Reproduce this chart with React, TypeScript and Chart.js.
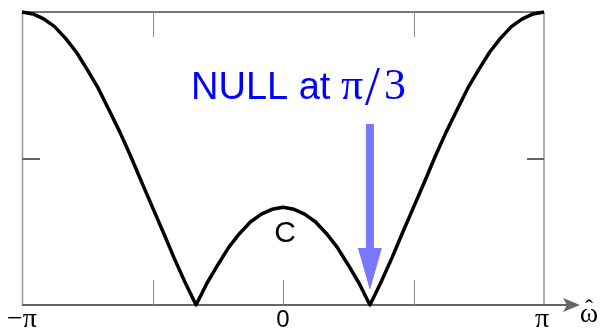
import { useEffect, useRef } from "react";
import { Chart, registerables } from "chart.js";

Chart.register(...registerables);

// Frequency samples, in units of π (step π/24)
const omegaOverPi = [
  -1.0, -0.958, -0.917, -0.875, -0.833, -0.792, -0.75, -0.708, -0.667, -0.625,
  -0.583, -0.542, -0.5, -0.458, -0.417, -0.375, -0.333, -0.292, -0.25, -0.208,
  -0.167, -0.125, -0.083, -0.042, 0.0, 0.042, 0.083, 0.125, 0.167, 0.208, 0.25,
  0.292, 0.333, 0.375, 0.417, 0.458, 0.5, 0.542, 0.583, 0.625, 0.667, 0.708,
  0.75, 0.792, 0.833, 0.875, 0.917, 0.958, 1.0,
];

// Magnitude response |H(ω)|
const magnitude = [
  3.0, 2.98, 2.93, 2.85, 2.73, 2.59, 2.41, 2.22, 2.0, 1.77, 1.52, 1.26, 1.0,
  0.74, 0.48, 0.23, 0.0, 0.22, 0.41, 0.59, 0.73, 0.85, 0.93, 0.98, 1.0, 0.98,
  0.93, 0.85, 0.73, 0.59, 0.41, 0.22, 0.0, 0.23, 0.48, 0.74, 1.0, 1.26, 1.52,
  1.77, 2.0, 2.22, 2.41, 2.59, 2.73, 2.85, 2.93, 2.98, 3.0,
];

const xTickValues = [-1, -0.5, 0, 0.5, 1];
const xTickLabels = ["−π", "", "0", "", "π"];
const yTickValues = [1.5];
const nullOmegaOverPi = 0.333;
const curveLabel = "C";
const nullLabelText = "NULL at ";
const nullLabelMath = ["π", "/", "3"];
const axisLabel = "ω";
const axisLabelAccent = "ˆ";

const SANS = '"Liberation Sans", Arial, sans-serif';
const SERIF = '"Liberation Serif", "Times New Roman", serif';

const decorations = {
  id: "decorations",
  beforeDatasetsDraw(chart: any) {
    const { ctx, chartArea: a, scales } = chart;
    const xs = scales.x;
    const ys = scales.y;
    ctx.save();

    // frame: left, right, top
    ctx.strokeStyle = "#999999";
    ctx.lineWidth = 1.5;
    ctx.beginPath();
    ctx.moveTo(a.left + 0.5, a.top);
    ctx.lineTo(a.left + 0.5, a.bottom);
    ctx.moveTo(a.right, a.top);
    ctx.lineTo(a.right, a.bottom);
    ctx.stroke();
    ctx.strokeStyle = "#777777";
    ctx.lineWidth = 2;
    ctx.beginPath();
    ctx.moveTo(a.left, a.top);
    ctx.lineTo(a.right, a.top);
    ctx.stroke();

    // horizontal axis with arrow
    ctx.strokeStyle = "#666666";
    ctx.lineWidth = 2;
    ctx.beginPath();
    ctx.moveTo(a.left, a.bottom);
    ctx.lineTo(a.right + 24, a.bottom);
    ctx.stroke();
    ctx.fillStyle = "#666666";
    ctx.beginPath();
    ctx.moveTo(a.right + 19, a.bottom - 7);
    ctx.lineTo(a.right + 36, a.bottom);
    ctx.lineTo(a.right + 19, a.bottom + 7);
    ctx.lineTo(a.right + 23, a.bottom);
    ctx.closePath();
    ctx.fill();

    // vertical ticks on left and right
    ctx.strokeStyle = "#666666";
    ctx.lineWidth = 2;
    yTickValues.forEach((v) => {
      const py = Math.round(ys.getPixelForValue(v));
      ctx.beginPath();
      ctx.moveTo(a.left, py);
      ctx.lineTo(a.left + 18, py);
      ctx.moveTo(a.right - 17, py);
      ctx.lineTo(a.right, py);
      ctx.stroke();
    });

    // horizontal ticks on top and bottom
    ctx.strokeStyle = "#888888";
    ctx.lineWidth = 1;
    xTickValues.forEach((v) => {
      if (v === -1 || v === 1) return;
      const px = Math.round(xs.getPixelForValue(v)) + 0.5;
      ctx.beginPath();
      ctx.moveTo(px, a.bottom);
      ctx.lineTo(px, a.bottom - 25);
      if (v !== 0) {
        ctx.moveTo(px, a.top);
        ctx.lineTo(px, a.top + 25);
      }
      ctx.stroke();
    });

    // tick labels
    ctx.fillStyle = "#000000";
    ctx.textAlign = "center";
    ctx.textBaseline = "alphabetic";
    xTickValues.forEach((v, i) => {
      const label = xTickLabels[i];
      if (!label) return;
      ctx.font = label.includes("π") ? `28px ${SERIF}` : `24px ${SANS}`;
      ctx.fillText(label, xs.getPixelForValue(v) - (label === "π" ? 2 : 0), a.bottom + 22);
    });
    ctx.font = `28px ${SERIF}`;
    ctx.fillText(axisLabel, a.right + 45, a.bottom + 17);
    ctx.font = `24px ${SERIF}`;
    ctx.fillText(axisLabelAccent, a.right + 45, a.bottom + 11);

    // arrow pointing at the null
    const nx = xs.getPixelForValue(nullOmegaOverPi);
    ctx.fillStyle = "#7777ff";
    ctx.fillRect(nx - 4, 124, 8, 128);
    ctx.beginPath();
    ctx.moveTo(nx - 12, 248);
    ctx.lineTo(nx + 12, 248);
    ctx.lineTo(nx, 290);
    ctx.closePath();
    ctx.fill();

    // labels
    ctx.fillStyle = "#0000ff";
    ctx.textAlign = "left";
    ctx.font = `38px ${SANS}`;
    ctx.fillText(nullLabelText, 191, 99);
    ctx.font = `44px ${SERIF}`;
    ctx.fillText(nullLabelMath[0], 341, 99);
    ctx.fillText(nullLabelMath[2], 384, 99);
    ctx.font = `54px ${SERIF}`;
    ctx.fillText(nullLabelMath[1], 365, 104);

    ctx.fillStyle = "#000000";
    ctx.textAlign = "center";
    ctx.font = `30px ${SANS}`;
    ctx.fillText(curveLabel, xs.getPixelForValue(0) + 2, 242);

    ctx.restore();
  },
};

export default function App() {
  const canvasRef = useRef<HTMLCanvasElement | null>(null);

  useEffect(() => {
    const canvas = canvasRef.current;
    if (!canvas) return;
    const chart = new Chart(canvas, {
      type: "line",
      data: {
        datasets: [
          {
            data: omegaOverPi.map((x, i) => ({ x, y: magnitude[i] })),
            borderColor: "#000000",
            borderWidth: 3.5,
            pointRadius: 0,
            tension: 0,
            fill: false,
            clip: false as any,
            borderJoinStyle: "round",
            borderCapStyle: "butt",
          },
        ],
      },
      options: {
        animation: false,
        responsive: false,
        events: [],
        layout: { padding: { left: 22, right: 60, top: 12, bottom: 28 } },
        scales: {
          x: { type: "linear", min: -1, max: 1, display: false },
          y: { type: "linear", min: 0, max: 3, display: false },
        },
        plugins: { legend: { display: false }, tooltip: { enabled: false } },
      },
      plugins: [decorations],
    });
    return () => chart.destroy();
  }, []);

  return (
    <div style={{ position: "absolute", left: 0, top: 0, width: 604, height: 333, background: "#ffffff" }}>
      <canvas ref={canvasRef} width={604} height={333} style={{ width: 604, height: 333 }} />
    </div>
  );
}
